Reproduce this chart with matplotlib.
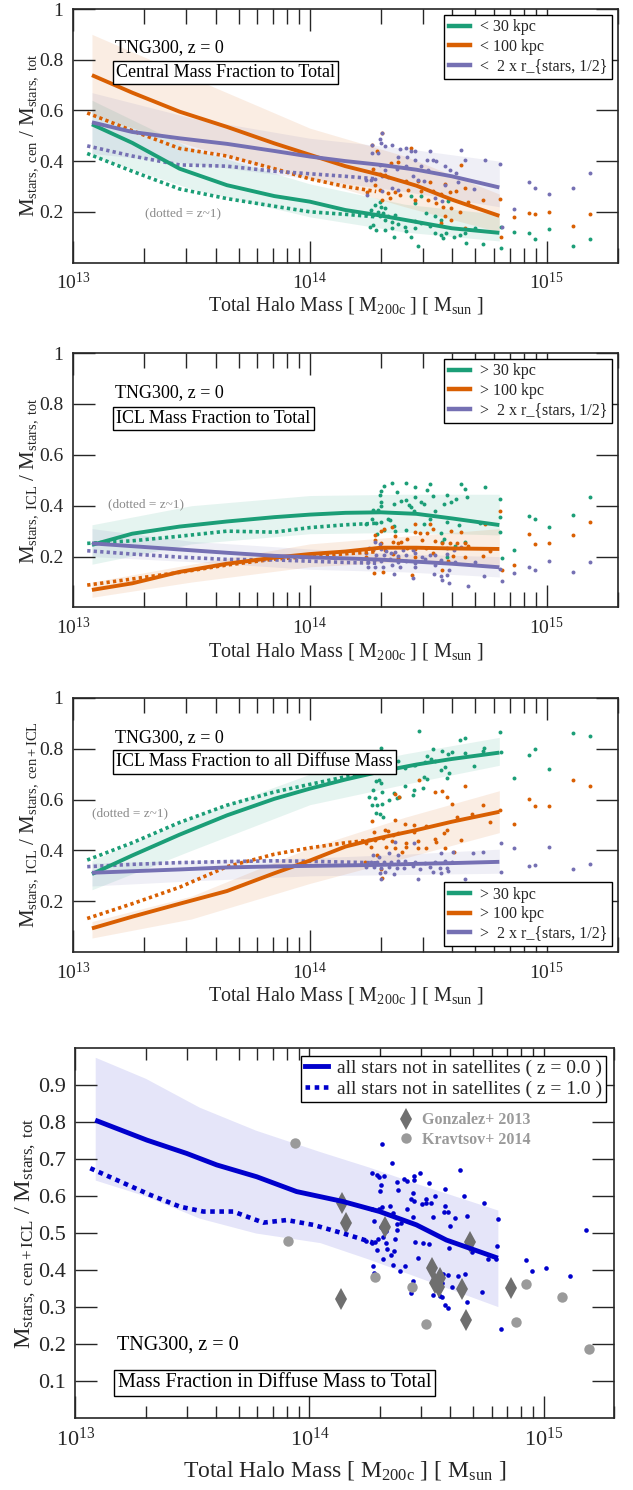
import numpy as np
import matplotlib
matplotlib.use('Agg')
import matplotlib.pyplot as plt
from matplotlib.ticker import LogLocator, NullLocator, NullFormatter
from matplotlib.lines import Line2D

plt.rcParams['font.family'] = ['Liberation Serif', 'DejaVu Serif']
plt.rcParams['mathtext.fontset'] = 'custom'
plt.rcParams['mathtext.rm'] = 'Liberation Serif'
plt.rcParams['mathtext.it'] = 'Liberation Serif:italic'
plt.rcParams['mathtext.bf'] = 'Liberation Serif:bold'

# ---------------- data (x values are log10 of halo mass) ----------------
x_solid = [13.08, 13.25, 13.45, 13.65, 13.85, 14.0, 14.15, 14.3, 14.45, 14.6, 14.8]
x_dot = [13.06, 13.25, 13.45, 13.65, 13.85, 14.0, 14.15, 14.28]
x_band = [13.08, 13.5, 14.0, 14.4, 14.8]
far_x = [14.862, 14.925, 14.95, 15.01, 15.112, 15.182]

# panel 1: central mass fraction
p1_g_line = [0.545, 0.472, 0.37, 0.305, 0.262, 0.24, 0.207, 0.185, 0.16, 0.135, 0.117]
p1_o_line = [0.739, 0.67, 0.595, 0.535, 0.47, 0.425, 0.38, 0.345, 0.303, 0.248, 0.184]
p1_p_line = [0.553, 0.515, 0.49, 0.468, 0.44, 0.418, 0.40, 0.385, 0.366, 0.34, 0.296]
p1_g_dot = [0.43, 0.36, 0.29, 0.252, 0.222, 0.20, 0.19, 0.18]
p1_o_dot = [0.59, 0.52, 0.45, 0.42, 0.37, 0.33, 0.30, 0.28]
p1_p_dot = [0.46, 0.42, 0.385, 0.38, 0.36, 0.35, 0.34, 0.33]
p1_g_hi = [0.64, 0.45, 0.31, 0.23, 0.19]
p1_g_lo = [0.42, 0.29, 0.18, 0.12, 0.085]
p1_o_hi = [0.90, 0.73, 0.53, 0.42, 0.27]
p1_o_lo = [0.58, 0.46, 0.33, 0.22, 0.12]
p1_p_hi = [0.67, 0.57, 0.49, 0.45, 0.40]
p1_p_lo = [0.43, 0.39, 0.33, 0.28, 0.22]

p1_pur_x = [14.305,14.295,14.30,14.263,14.316,14.345,14.38,14.408,14.429,14.443,14.508,14.637,14.288,14.263,14.373,14.412,14.443,14.494,14.52,14.534,14.654,14.738,14.802,14.57,14.59,14.615,14.295,14.319,14.366,14.408,14.471,14.50,14.436,14.457,14.482,14.257,14.274,14.305,14.33,14.347,14.373,14.305,14.626,14.57,14.693,14.527,14.558,14.243,14.235,14.81]
p1_pur_y = [0.509,0.488,0.472,0.465,0.461,0.464,0.448,0.453,0.438,0.439,0.438,0.443,0.432,0.432,0.417,0.417,0.406,0.403,0.403,0.401,0.403,0.406,0.39,0.38,0.366,0.353,0.386,0.364,0.369,0.38,0.38,0.364,0.34,0.327,0.32,0.324,0.33,0.34,0.337,0.294,0.287,0.283,0.316,0.306,0.29,0.253,0.241,0.267,0.327,0.142]
p1_ora_x = [14.305,14.263,14.429,14.285,14.342,14.373,14.267,14.295,14.319,14.408,14.457,14.506,14.57,14.274,14.295,14.33,14.359,14.38,14.243,14.52,14.555,14.59,14.619,14.654,14.64,14.337,14.305,14.443,14.50,14.534,14.562,14.598,14.633,14.668,14.731,14.802,14.57,14.598,14.654,14.555,14.809,14.415,14.471]
p1_ora_y = [0.512,0.465,0.451,0.439,0.393,0.395,0.369,0.35,0.347,0.32,0.32,0.316,0.31,0.307,0.287,0.274,0.277,0.267,0.277,0.281,0.271,0.277,0.281,0.294,0.386,0.254,0.248,0.248,0.245,0.234,0.219,0.215,0.201,0.237,0.245,0.25,0.182,0.168,0.135,0.155,0.102,0.285,0.281]
p1_grn_x = [14.295,14.274,14.302,14.319,14.26,14.288,14.309,14.235,14.267,14.295,14.33,14.359,14.443,14.429,14.468,14.492,14.527,14.555,14.316,14.345,14.373,14.401,14.443,14.471,14.506,14.267,14.253,14.281,14.316,14.345,14.408,14.443,14.527,14.555,14.576,14.609,14.633,14.654,14.696,14.661,14.731,14.356,14.429,14.457,14.562,14.809,14.809,14.584]
p1_grn_y = [0.237,0.228,0.219,0.215,0.208,0.20,0.197,0.192,0.188,0.182,0.184,0.188,0.234,0.263,0.263,0.195,0.182,0.168,0.168,0.158,0.153,0.142,0.162,0.155,0.145,0.149,0.139,0.129,0.129,0.135,0.125,0.135,0.118,0.109,0.116,0.102,0.109,0.118,0.135,0.076,0.073,0.10,0.102,0.065,0.096,0.142,0.056,0.241]
p1_far_g = [0.12, 0.116, 0.094, 0.134, 0.065, 0.094]
p1_far_o = [0.179, 0.197, 0.193, 0.199, 0.145, 0.193]
p1_far_p = [0.212, 0.319, 0.294, 0.27, 0.292, 0.353]

# panel 2: ICL mass fraction
p2_g_line = [0.246, 0.29, 0.318, 0.338, 0.355, 0.365, 0.372, 0.374, 0.368, 0.35, 0.324]
p2_o_line = [0.069, 0.095, 0.14, 0.172, 0.196, 0.21, 0.22, 0.235, 0.235, 0.232, 0.23]
p2_p_line = [0.252, 0.241, 0.228, 0.215, 0.203, 0.197, 0.193, 0.188, 0.18, 0.172, 0.158]
p2_g_dot = [0.252, 0.262, 0.28, 0.30, 0.296, 0.314, 0.325, 0.331]
p2_o_dot = [0.088, 0.112, 0.138, 0.167, 0.19, 0.2, 0.211, 0.219]
p2_p_dot = [0.223, 0.21, 0.198, 0.189, 0.187, 0.182, 0.177, 0.174]
p2_g_hi = [0.325, 0.40, 0.44, 0.445, 0.445]
p2_g_lo = [0.17, 0.25, 0.29, 0.295, 0.285]
p2_o_hi = [0.10, 0.17, 0.25, 0.28, 0.31]
p2_o_lo = [0.04, 0.10, 0.16, 0.18, 0.16]
p2_p_hi = [0.31, 0.26, 0.23, 0.21, 0.20]
p2_p_lo = [0.20, 0.18, 0.15, 0.14, 0.12]

p2_grn_x = [14.314,14.345,14.408,14.443,14.506,14.496,14.30,14.295,14.37,14.443,14.52,14.577,14.637,14.654,14.738,14.665,14.302,14.30,14.356,14.384,14.404,14.418,14.468,14.482,14.53,14.567,14.598,14.619,14.802,14.288,14.267,14.429,14.44,14.328,14.338,14.30,14.281,14.235,14.263,14.482,14.506,14.577,14.63,14.717,14.356,14.314,14.361,14.404,14.283,14.567,14.553,14.558,14.612,14.654,14.802,14.802,14.81,14.577]
p2_grn_y = [0.478,0.488,0.488,0.472,0.484,0.461,0.459,0.442,0.452,0.433,0.438,0.442,0.484,0.464,0.472,0.435,0.416,0.399,0.406,0.42,0.422,0.402,0.416,0.406,0.38,0.406,0.416,0.425,0.425,0.385,0.383,0.393,0.38,0.346,0.344,0.337,0.333,0.33,0.346,0.328,0.346,0.337,0.324,0.333,0.32,0.304,0.302,0.304,0.289,0.271,0.294,0.258,0.241,0.258,0.298,0.357,0.193,0.197]
p2_ora_x = [14.443,14.506,14.30,14.314,14.345,14.443,14.464,14.496,14.52,14.595,14.64,14.738,14.802,14.274,14.361,14.412,14.53,14.591,14.654,14.277,14.30,14.352,14.373,14.384,14.474,14.558,14.623,14.668,14.267,14.319,14.412,14.443,14.492,14.52,14.605,14.654,14.759,14.235,14.277,14.352,14.373,14.443,14.548,14.584,14.271,14.309,14.432,14.558,14.81,14.731]
p2_ora_y = [0.328,0.328,0.302,0.31,0.315,0.298,0.291,0.291,0.307,0.302,0.298,0.328,0.38,0.285,0.281,0.271,0.262,0.254,0.254,0.265,0.254,0.258,0.254,0.258,0.265,0.254,0.254,0.241,0.226,0.226,0.232,0.228,0.232,0.215,0.202,0.197,0.223,0.197,0.189,0.21,0.193,0.20,0.18,0.184,0.137,0.141,0.127,0.147,0.147,0.202]
p2_pur_x = [14.274,14.295,14.249,14.267,14.302,14.323,14.359,14.394,14.436,14.239,14.281,14.314,14.342,14.373,14.408,14.443,14.474,14.506,14.53,14.577,14.577,14.609,14.637,14.246,14.271,14.30,14.337,14.373,14.408,14.443,14.485,14.555,14.612,14.246,14.274,14.309,14.345,14.38,14.443,14.527,14.586,14.525,14.553,14.577,14.558,14.586,14.436,14.356,14.668,14.735,14.81,14.696,14.802]
p2_pur_y = [0.258,0.249,0.232,0.228,0.228,0.223,0.219,0.226,0.226,0.213,0.206,0.206,0.213,0.202,0.206,0.215,0.20,0.206,0.206,0.232,0.21,0.226,0.239,0.18,0.186,0.184,0.189,0.18,0.184,0.176,0.189,0.186,0.18,0.16,0.16,0.158,0.167,0.16,0.16,0.167,0.147,0.131,0.123,0.127,0.11,0.097,0.114,0.131,0.084,0.124,0.105,0.18,0.15]
p2_far_g = [0.225, 0.36, 0.347, 0.316, 0.362, 0.434]
p2_far_o = [0.166, 0.289, 0.248, 0.253, 0.285, 0.335]
p2_far_p = [0.134, 0.158, 0.147, 0.183, 0.138, 0.178]

# panel 3: ICL fraction of all diffuse mass
p3_g_line = [0.307, 0.38, 0.462, 0.538, 0.603, 0.643, 0.679, 0.711, 0.738, 0.76, 0.785]
p3_o_line = [0.093, 0.139, 0.19, 0.24, 0.31, 0.36, 0.415, 0.45, 0.48, 0.513, 0.552]
p3_p_line = [0.312, 0.318, 0.325, 0.333, 0.337, 0.339, 0.341, 0.343, 0.347, 0.35, 0.355]
p3_g_dot = [0.362, 0.43, 0.51, 0.578, 0.63, 0.66, 0.69, 0.71]
p3_o_dot = [0.132, 0.19, 0.255, 0.336, 0.385, 0.41, 0.43, 0.443]
p3_p_dot = [0.336, 0.345, 0.352, 0.356, 0.359, 0.357, 0.354, 0.351]
p3_g_hi = [0.36, 0.53, 0.70, 0.78, 0.845]
p3_g_lo = [0.245, 0.40, 0.58, 0.66, 0.735]
p3_o_hi = [0.12, 0.22, 0.41, 0.53, 0.635]
p3_o_lo = [0.055, 0.13, 0.27, 0.37, 0.47]
p3_p_hi = [0.35, 0.36, 0.37, 0.385, 0.405]
p3_p_lo = [0.26, 0.28, 0.30, 0.305, 0.31]

p3_grn_x = [14.46,14.302,14.373,14.446,14.496,14.52,14.558,14.584,14.633,14.657,14.735,14.806,14.802,14.51,14.53,14.601,14.654,14.693,14.731,14.485,14.44,14.356,14.291,14.401,14.314,14.482,14.496,14.553,14.57,14.586,14.581,14.291,14.281,14.30,14.401,14.44,14.478,14.267,14.305,14.356,14.366,14.436,14.375,14.277,14.263,14.285,14.305,14.333,14.281,14.295,14.309,14.249]
p3_grn_y = [0.87,0.804,0.752,0.736,0.773,0.799,0.791,0.778,0.835,0.844,0.804,0.789,0.865,0.76,0.752,0.789,0.782,0.733,0.791,0.749,0.736,0.729,0.739,0.723,0.713,0.69,0.681,0.716,0.73,0.703,0.684,0.677,0.673,0.664,0.655,0.638,0.644,0.638,0.629,0.625,0.605,0.618,0.612,0.608,0.579,0.579,0.581,0.598,0.546,0.542,0.533,0.611]
p3_ora_x = [14.46,14.53,14.558,14.577,14.657,14.601,14.359,14.375,14.731,14.263,14.361,14.401,14.44,14.316,14.328,14.44,14.492,14.567,14.623,14.685,14.76,14.802,14.271,14.309,14.352,14.373,14.274,14.345,14.408,14.457,14.527,14.581,14.64,14.534,14.239,14.26,14.323,14.361,14.408,14.457,14.492,14.57,14.387,14.285,14.30,14.305,14.609,14.232]
p3_ora_y = [0.677,0.629,0.634,0.612,0.655,0.581,0.621,0.612,0.579,0.516,0.52,0.503,0.50,0.48,0.476,0.471,0.497,0.467,0.533,0.542,0.51,0.559,0.471,0.45,0.461,0.467,0.441,0.437,0.428,0.437,0.445,0.48,0.441,0.434,0.428,0.415,0.415,0.408,0.415,0.408,0.408,0.408,0.395,0.382,0.327,0.29,0.392,0.356]
p3_pur_x = [14.361,14.44,14.267,14.291,14.333,14.373,14.257,14.285,14.314,14.342,14.373,14.401,14.443,14.485,14.527,14.57,14.601,14.239,14.271,14.302,14.333,14.366,14.398,14.436,14.464,14.506,14.548,14.581,14.553,14.605,14.689,14.731,14.809,14.295,14.30,14.356,14.457,14.52,14.555,14.584,14.654,14.809,14.316]
p3_pur_y = [0.434,0.428,0.382,0.375,0.388,0.382,0.356,0.356,0.356,0.356,0.358,0.358,0.356,0.349,0.356,0.358,0.356,0.336,0.336,0.332,0.336,0.329,0.332,0.34,0.327,0.336,0.329,0.329,0.388,0.395,0.388,0.392,0.428,0.31,0.287,0.306,0.287,0.316,0.31,0.319,0.287,0.316,0.316]
p3_far_g = [0.687, 0.774, 0.80, 0.72, 0.861, 0.85]
p3_far_o = [0.505, 0.601, 0.575, 0.575, 0.676, 0.654]
p3_far_p = [0.409, 0.339, 0.342, 0.414, 0.326, 0.348]

# panel 4: diffuse mass fraction to total
p4_line_x = [13.085, 13.306, 13.476, 13.604, 13.775, 13.945, 14.144, 14.3, 14.457, 14.585, 14.805]
p4_line_y = [0.805, 0.751, 0.715, 0.684, 0.652, 0.612, 0.585, 0.558, 0.522, 0.481, 0.432]
p4_dot_x = [13.064, 13.192, 13.32, 13.448, 13.547, 13.675, 13.803, 13.903, 14.016, 14.144, 14.272]
p4_dot_y = [0.675, 0.639, 0.603, 0.571, 0.558, 0.558, 0.528, 0.535, 0.522, 0.499, 0.474]
p4_band_x = [13.085, 13.3, 13.53, 13.77, 14.045, 14.25, 14.457, 14.805]
p4_band_hi = [0.975, 0.918, 0.84, 0.778, 0.72, 0.679, 0.634, 0.562]
p4_band_lo = [0.643, 0.60, 0.54, 0.50, 0.474, 0.43, 0.382, 0.301]
p4_x = [14.308,14.351,14.268,14.287,14.297,14.318,14.305,14.30,14.373,14.405,14.415,14.447,14.447,14.472,14.379,14.511,14.642,14.581,14.443,14.447,14.436,14.50,14.481,14.497,14.535,14.521,14.661,14.744,14.268,14.297,14.308,14.344,14.358,14.418,14.581,14.574,14.592,14.443,14.526,14.621,14.671,14.806,14.275,14.304,14.329,14.372,14.372,14.39,14.60,14.24,14.268,14.28,14.294,14.315,14.329,14.332,14.365,14.45,14.486,14.511,14.287,14.348,14.361,14.464,14.595,14.763,14.798,14.273,14.275,14.315,14.359,14.388,14.41,14.443,14.436,14.571,14.592,14.635,14.663,14.567,14.609,14.528,14.557,14.567,14.578,14.59,14.673,14.737,14.817,14.695,14.80]
p4_y = [0.74,0.69,0.661,0.658,0.652,0.655,0.629,0.613,0.638,0.645,0.64,0.654,0.643,0.663,0.616,0.636,0.669,0.619,0.607,0.587,0.591,0.592,0.578,0.582,0.601,0.582,0.601,0.582,0.564,0.564,0.571,0.573,0.555,0.564,0.573,0.556,0.556,0.542,0.542,0.54,0.546,0.539,0.533,0.517,0.506,0.524,0.508,0.528,0.519,0.479,0.472,0.475,0.485,0.49,0.474,0.458,0.483,0.477,0.472,0.47,0.455,0.44,0.452,0.432,0.46,0.431,0.431,0.41,0.392,0.431,0.414,0.398,0.41,0.371,0.339,0.389,0.387,0.385,0.389,0.364,0.355,0.333,0.33,0.328,0.305,0.296,0.313,0.341,0.241,0.449,0.466]
p4_far = [0.357, 0.428, 0.397, 0.406, 0.385, 0.508]
gonz_x = [14.14, 14.156, 14.322, 14.137, 14.525, 14.535, 14.557, 14.554, 14.653, 14.67, 14.687, 14.862]
gonz_y = [0.582, 0.526, 0.517, 0.321, 0.405, 0.364, 0.378, 0.355, 0.348, 0.265, 0.477, 0.351]
krav_x = [13.938, 13.91, 14.279, 14.44, 14.497, 14.926, 14.883, 15.08, 15.196]
krav_y = [0.744, 0.478, 0.38, 0.355, 0.254, 0.361, 0.26, 0.326, 0.186]

labels_lt = ['< 30 kpc', '< 100 kpc', '<  2 x r_{stars, 1/2}']
labels_gt = ['> 30 kpc', '> 100 kpc', '>  2 x r_{stars, 1/2}']
x_ticklabels = [r'$10^{13}$', r'$10^{14}$', r'$10^{15}$']

GREEN, ORANGE, PURPLE = '#1b9e77', '#d95f02', '#7570b3'
BLUE = '#0000cc'
INK = '#262626'


def m(v):
    return 10.0 ** np.asarray(v, dtype=float)


fig = plt.figure(figsize=(6.33, 14.9), dpi=100)
H = 1490.0
W = 633.0
ax1 = fig.add_axes([73 / W, 1 - 262.5 / H, 545 / W, 253.5 / H])
ax2 = fig.add_axes([73 / W, 1 - 607.5 / H, 545 / W, 254.5 / H])
ax3 = fig.add_axes([73 / W, 1 - 952 / H, 545 / W, 254 / H])
ax4 = fig.add_axes([75.3 / W, 1 - 1418 / H, 538.7 / W, 370 / H])


def style(ax, yt, ytl, tsize, lsize, majlen, minlen, xlab_y):
    ax.set_xscale('log')
    ax.set_xlim(1e13, 2e15)
    ax.set_ylim(0, 1)
    ax.set_xticks(m([13, 14, 15]), labels=x_ticklabels)
    ax.xaxis.set_minor_locator(LogLocator(base=10, subs=np.arange(2, 10)))
    ax.xaxis.set_minor_formatter(NullFormatter())
    ax.set_yticks(yt, labels=ytl)
    ax.yaxis.set_minor_locator(NullLocator())
    ax.tick_params(which='major', direction='in', length=majlen, width=1.0,
                   top=True, right=True, labelsize=tsize, color=INK,
                   labelcolor=INK, pad=7)
    ax.tick_params(which='minor', direction='in', length=minlen, width=1.0,
                   top=True, right=True, color=INK)
    for s in ax.spines.values():
        s.set_linewidth(1.2)
        s.set_color(INK)
    ax.set_xlabel(r'Total Halo Mass [ $\mathrm{M_{200c}}$ ] [ $\mathrm{M_{sun}}$ ]',
                  fontsize=lsize, color=INK)
    ax.xaxis.set_label_coords(0.5, xlab_y)


def three_panel(ax, lines, dots, bands, scat, far, legend_labels, legloc,
                ylabel, title, dotted_pos):
    cols = [GREEN, ORANGE, PURPLE]
    for c, (hi, lo) in zip(cols, bands):
        ax.fill_between(m(x_band), lo, hi, color=c, alpha=0.11, lw=0, zorder=1)
    for c, (sx, sy), fy in zip(cols, scat, far):
        ax.scatter(m(list(sx) + far_x), list(sy) + fy, s=8, color=c, lw=0, zorder=2)
    for c, yy in zip(cols, dots):
        ax.plot(m(x_dot), yy, color=c, lw=2.6, ls=(0, (0.9, 0.9)),
                dash_capstyle='butt', zorder=3)
    for c, yy in zip(cols, lines):
        ax.plot(m(x_solid), yy, color=c, lw=2.8, solid_capstyle='butt', zorder=4)
    handles = [Line2D([], [], color=c, lw=3.2) for c in cols]
    leg = ax.legend(handles, legend_labels, loc=legloc, fontsize=11.5,
                    frameon=True, fancybox=False, edgecolor='black',
                    framealpha=1, borderpad=0.3, labelspacing=0.22,
                    handlelength=1.3, handletextpad=0.65, borderaxespad=0.35)
    leg.get_frame().set_linewidth(1.0)
    for t in leg.get_texts():
        t.set_color(INK)
    ax.text(0.077, 0.846, 'TNG300, z = 0', transform=ax.transAxes, fontsize=13,
            va='center', ha='left', color='black', zorder=6)
    ax.text(0.079, title[1], title[0], transform=ax.transAxes, fontsize=13,
            va='center', ha='left', color='black', zorder=6,
            bbox=dict(boxstyle='square,pad=0.18', fc='white', ec='black', lw=1.0))
    ax.text(dotted_pos[0], dotted_pos[1], '(dotted = z~1)', transform=ax.transAxes,
            fontsize=9.5, color='#8a8a8a', va='center', ha='left', zorder=6)
    ax.set_ylabel(ylabel, fontsize=15, color=INK)
    ax.yaxis.set_label_coords(-0.06, 0.5)


yt13 = [0.2, 0.4, 0.6, 0.8, 1.0]
ytl13 = ['0.2', '0.4', '0.6', '0.8', '1']
for ax in (ax1, ax2, ax3):
    style(ax, yt13, ytl13, 14, 14.5, 16, 10.5, -0.13)

three_panel(ax1,
            [p1_g_line, p1_o_line, p1_p_line],
            [p1_g_dot, p1_o_dot, p1_p_dot],
            [(p1_g_hi, p1_g_lo), (p1_o_hi, p1_o_lo), (p1_p_hi, p1_p_lo)],
            [(p1_grn_x, p1_grn_y), (p1_ora_x, p1_ora_y), (p1_pur_x, p1_pur_y)],
            [p1_far_g, p1_far_o, p1_far_p],
            labels_lt, 'upper right',
            r'$\mathrm{M_{stars,\ cen}\ /\ M_{stars,\ tot}}$',
            ('Central Mass Fraction to Total', 0.749), (0.132, 0.195))

three_panel(ax2,
            [p2_g_line, p2_o_line, p2_p_line],
            [p2_g_dot, p2_o_dot, p2_p_dot],
            [(p2_g_hi, p2_g_lo), (p2_o_hi, p2_o_lo), (p2_p_hi, p2_p_lo)],
            [(p2_grn_x, p2_grn_y), (p2_ora_x, p2_ora_y), (p2_pur_x, p2_pur_y)],
            [p2_far_g, p2_far_o, p2_far_p],
            labels_gt, 'upper right',
            r'$\mathrm{M_{stars,\ ICL}\ /\ M_{stars,\ tot}}$',
            ('ICL Mass Fraction to Total', 0.743), (0.064, 0.407))

three_panel(ax3,
            [p3_g_line, p3_o_line, p3_p_line],
            [p3_g_dot, p3_o_dot, p3_p_dot],
            [(p3_g_hi, p3_g_lo), (p3_o_hi, p3_o_lo), (p3_p_hi, p3_p_lo)],
            [(p3_grn_x, p3_grn_y), (p3_ora_x, p3_ora_y), (p3_pur_x, p3_pur_y)],
            [p3_far_g, p3_far_o, p3_far_p],
            labels_gt, 'lower right',
            r'$\mathrm{M_{stars,\ ICL}\ /\ M_{stars,\ cen+ICL}}$',
            ('ICL Mass Fraction to all Diffuse Mass', 0.749), (0.034, 0.546))

# ---------------- panel 4 ----------------
yt4 = [0.1, 0.2, 0.3, 0.4, 0.5, 0.6, 0.7, 0.8, 0.9]
style(ax4, yt4, [f'{v:.1f}' for v in yt4], 16, 17, 16, 8.5, -0.11)
ax4.fill_between(m(p4_band_x), p4_band_lo, p4_band_hi, color=BLUE, alpha=0.1, lw=0, zorder=1)
ax4.scatter(m(p4_x + far_x), p4_y + p4_far, s=11, color=BLUE, lw=0, zorder=2)
ax4.plot(m(gonz_x), gonz_y, ls='none', marker='d', ms=11, color='#6f6f6f', mew=0, zorder=3)
ax4.plot(m(krav_x), krav_y, ls='none', marker='o', ms=7.5, color='#9a9a9a', mew=0, zorder=3)
ax4.plot(m(p4_dot_x), p4_dot_y, color=BLUE, lw=3.3, ls=(0, (1, 1)), dash_capstyle='butt', zorder=4)
ax4.plot(m(p4_line_x), p4_line_y, color=BLUE, lw=3.5, solid_capstyle='butt', zorder=5)

h4 = [Line2D([], [], color=BLUE, lw=3.5),
      Line2D([], [], color=BLUE, lw=3.3, ls=(0, (1, 1)), dash_capstyle='butt')]
leg4 = ax4.legend(h4, ['all stars not in satellites ( z = 0.0 )',
                       'all stars not in satellites ( z = 1.0 )'],
                  loc='upper right', fontsize=14, frameon=True, fancybox=False,
                  edgecolor='black', framealpha=1, borderpad=0.2, labelspacing=0.15,
                  handlelength=1.2, handletextpad=0.45, borderaxespad=0.4)
leg4.get_frame().set_linewidth(1.0)
for t in leg4.get_texts():
    t.set_color(INK)
ax4.add_artist(leg4)

h5 = [Line2D([], [], ls='none', marker='d', ms=11, color='#6f6f6f', mew=0),
      Line2D([], [], ls='none', marker='o', ms=7.5, color='#9a9a9a', mew=0)]
leg5 = ax4.legend(h5, ['Gonzalez+ 2013', 'Kravtsov+ 2014'], loc='upper left',
                  bbox_to_anchor=(0.599, 0.826), frameon=False,
                  borderpad=0, borderaxespad=0, handlelength=1.0,
                  handletextpad=0.5, labelspacing=0.2,
                  prop={'weight': 'bold', 'size': 11.5})
for t in leg5.get_texts():
    t.set_color('#9a9a9a')

ax4.text(0.077, 0.197, 'TNG300, z = 0', transform=ax4.transAxes, fontsize=14.5,
         va='center', ha='left', color='black')
ax4.text(0.079, 0.095, 'Mass Fraction in Diffuse Mass to Total', transform=ax4.transAxes,
         fontsize=14.5, va='center', ha='left', color='black',
         bbox=dict(boxstyle='square,pad=0.18', fc='white', ec='black', lw=1.0))
ax4.set_ylabel(r'$\mathrm{M_{stars,\ cen+ICL}\ /\ M_{stars,\ tot}}$', fontsize=17.5, color=INK)
ax4.yaxis.set_label_coords(-0.07, 0.5)

fig.savefig('out.png', dpi=100)
